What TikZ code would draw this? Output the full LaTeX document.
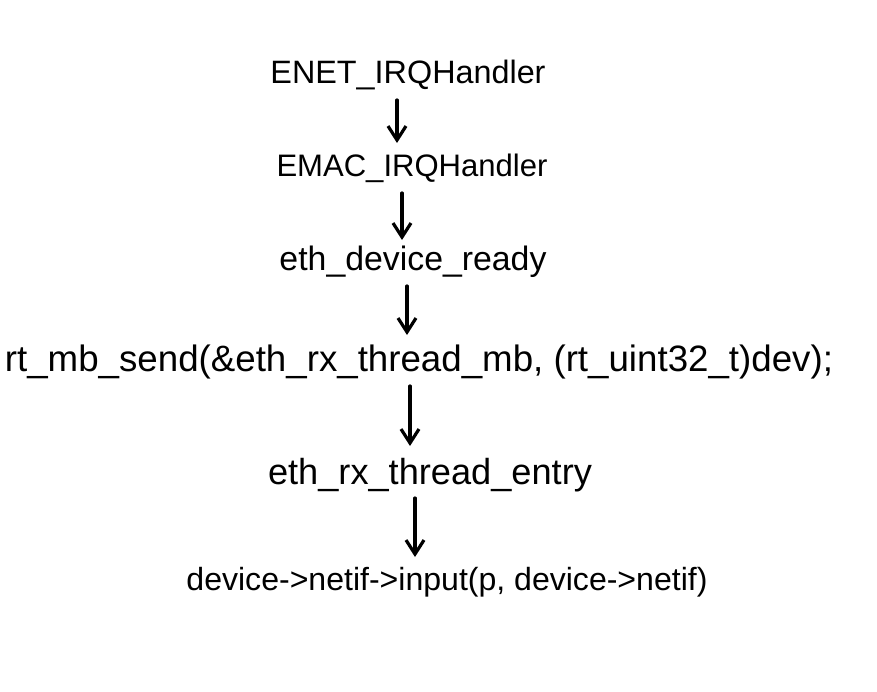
\documentclass[tikz,border=0pt]{standalone}
\usepackage{fontspec}
\setmainfont{Liberation Sans}
\usetikzlibrary{arrows.meta}
\tikzset{
  lbl/.style={inner sep=0pt, text=black},
  arr/.style={draw=black, line width=3.2pt, line cap=round, -{Straight Barb[length=14pt, width=18pt]}}
}
\begin{document}
\begin{tikzpicture}[x=1pt,y=-1pt]
\useasboundingbox (0,0) rectangle (877,691);
\node[lbl] (n1) at (408,75) {\resizebox{275pt}{!}{ENET\_IRQHandler}};
\node[lbl] (n2) at (412,168) {\resizebox{271pt}{!}{EMAC\_IRQHandler}};
\node[lbl] (n3) at (413,262) {\resizebox{267pt}{!}{eth\_device\_ready}};
\node[lbl] (n4) at (419,362) {\resizebox{828pt}{!}{rt\_mb\_send(\&eth\_rx\_thread\_mb, (rt\_uint32\_t)dev);}};
\node[lbl] (n5) at (430,475) {\resizebox{324pt}{!}{eth\_rx\_thread\_entry}};
\node[lbl] (n6) at (447,582) {\resizebox{521pt}{!}{device->netif->input(p, device->netif)}};
\coordinate (a1s) at (397,100); \coordinate (a1e) at (397,143);
\coordinate (a2s) at (402,193); \coordinate (a2e) at (402,240);
\coordinate (a3s) at (407,286); \coordinate (a3e) at (407,335);
\coordinate (a4s) at (410,386); \coordinate (a4e) at (410,446);
\coordinate (a5s) at (415,498); \coordinate (a5e) at (415,557);
\draw[arr] (a1s) -- (a1e);
\draw[arr] (a2s) -- (a2e);
\draw[arr] (a3s) -- (a3e);
\draw[arr] (a4s) -- (a4e);
\draw[arr] (a5s) -- (a5e);
\end{tikzpicture}
\end{document}
